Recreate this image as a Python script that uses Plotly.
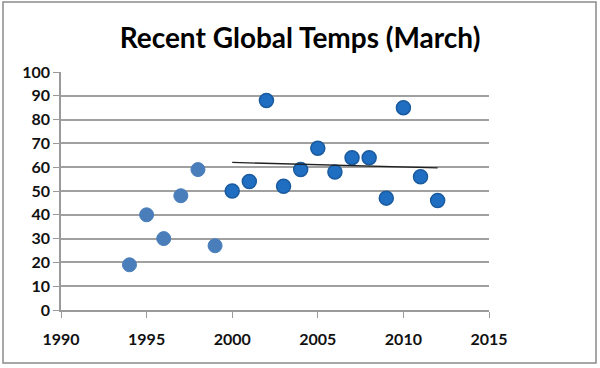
import numpy as np
import plotly.graph_objects as go

years_early = [1994, 1995, 1996, 1997, 1998, 1999]
temps_early = [19, 40, 30, 48, 59, 27]
years_recent = [2000, 2001, 2002, 2003, 2004, 2005, 2006, 2007, 2008, 2009, 2010, 2011, 2012]
temps_recent = [50, 54, 88, 52, 59, 68, 58, 64, 64, 47, 85, 56, 46]

x_ticks = [1990, 1995, 2000, 2005, 2010, 2015]
y_ticks = [0, 10, 20, 30, 40, 50, 60, 70, 80, 90, 100]

# linear trendline of the recent series
slope, intercept = np.polyfit(years_recent, temps_recent, 1)
trend_x = [years_recent[0], years_recent[-1]]
trend_y = [slope * x + intercept for x in trend_x]

fig = go.Figure()
fig.add_trace(go.Scatter(
    x=years_early, y=temps_early, mode="markers",
    marker=dict(size=14, color="#4A7EBB", line=dict(color="#4A7EBB", width=1)),
    showlegend=False, cliponaxis=False))
fig.add_trace(go.Scatter(
    x=years_recent, y=temps_recent, mode="markers",
    marker=dict(size=14, color="#1F6EC2", line=dict(color="#1A5A9E", width=1.5)),
    showlegend=False, cliponaxis=False))
fig.add_trace(go.Scatter(
    x=trend_x, y=trend_y, mode="lines",
    line=dict(color="#202020", width=1.3), showlegend=False))

font_tick = dict(family="Lato, 'Open Sans', sans-serif", size=16, color="#111111")

fig.update_layout(
    width=600, height=368,
    margin=dict(l=61, r=111, t=72, b=58),
    paper_bgcolor="white", plot_bgcolor="white",
    title=dict(text="<b>Recent Global Temps (March)</b>", x=0.5, xanchor="center",
               y=1 - 38 / 368, yanchor="middle",
               font=dict(family="Lato, 'Open Sans', sans-serif", size=28, color="#000000")),
    xaxis=dict(range=[1990, 2015], tickvals=x_ticks, ticktext=[f"<b>{v}</b>" for v in x_ticks],
               showgrid=False, zeroline=False, showline=True, linecolor="#9A9A9A", linewidth=1.5,
               ticks="outside", ticklen=6, tickcolor="#9A9A9A", tickfont=font_tick, ticklabelstandoff=8),
    yaxis=dict(range=[0, 100], tickvals=y_ticks, ticktext=[f"<b>{v}</b>" for v in y_ticks],
               showgrid=True, gridcolor="#A0A0A0", gridwidth=1.5, zeroline=False,
               showline=True, linecolor="#9A9A9A", linewidth=1.5,
               ticks="outside", ticklen=6, tickcolor="#9A9A9A", tickfont=font_tick),
    shapes=[dict(type="rect", xref="paper", yref="paper", x0=-58/428, x1=(596-61)/428,
                 y0=-(363-310)/238, y1=(310-2)/238,
                 line=dict(color="#8A8A8A", width=1.5), fillcolor="rgba(0,0,0,0)", layer="below")],
)

fig.write_html("out.html", config={"displayModeBar": False},
               post_script="document.body.style.margin='0';")
